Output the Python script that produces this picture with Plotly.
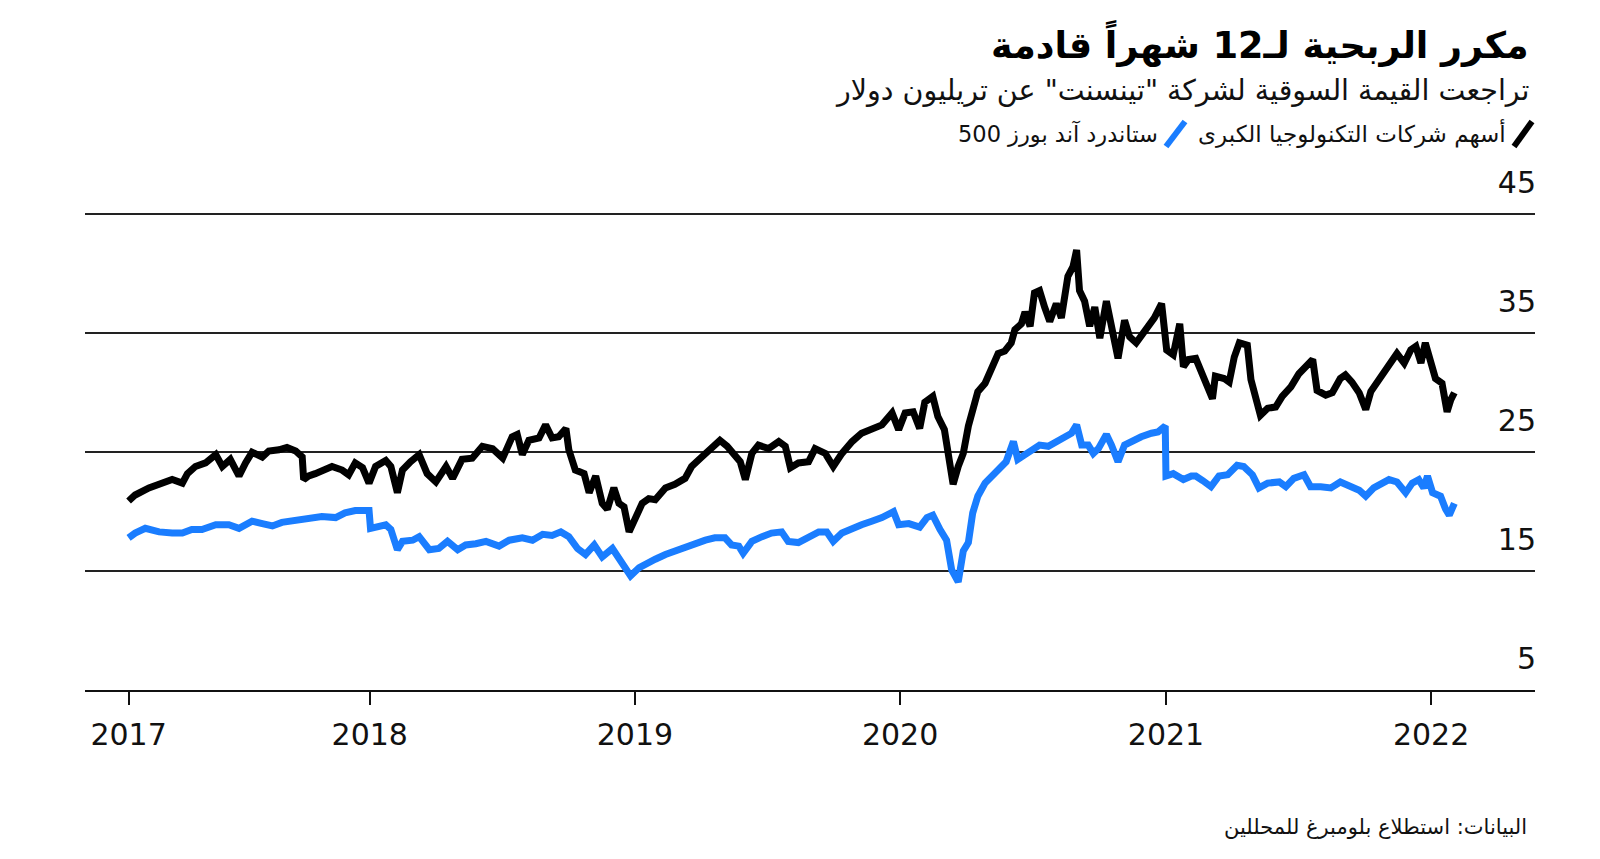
import plotly.graph_objects as go

# ---------------- data ----------------
black_dates = [
    "2017-02-03","2017-02-12","2017-03-03","2017-03-21","2017-04-04","2017-04-18","2017-04-25","2017-05-06",
    "2017-05-20","2017-06-03","2017-06-12","2017-06-23","2017-07-05","2017-07-14","2017-07-23","2017-08-06",
    "2017-08-15","2017-08-29","2017-09-09","2017-09-21","2017-09-30","2017-10-02","2017-10-09","2017-10-18",
    "2017-10-27","2017-11-10","2017-11-24","2017-12-03","2017-12-12","2017-12-22","2017-12-31","2018-01-09",
    "2018-01-23","2018-01-30","2018-02-08","2018-02-15","2018-02-26","2018-03-10","2018-03-21","2018-04-02",
    "2018-04-16","2018-04-25","2018-05-08","2018-05-22","2018-06-05","2018-06-19","2018-07-03","2018-07-16",
    "2018-07-23","2018-07-30","2018-08-08","2018-08-22","2018-08-31","2018-09-09","2018-09-18","2018-09-28",
    "2018-10-02","2018-10-11","2018-10-23","2018-10-30","2018-11-08","2018-11-17","2018-11-24","2018-12-03",
    "2018-12-10","2018-12-17","2018-12-24","2019-01-02","2019-01-11","2019-01-20","2019-01-29","2019-02-12",
    "2019-02-25","2019-03-11","2019-03-20","2019-04-03","2019-04-17","2019-04-28","2019-05-08","2019-05-19",
    "2019-05-26","2019-06-02","2019-06-11","2019-06-20","2019-07-04","2019-07-18","2019-07-27","2019-08-03",
    "2019-08-14","2019-08-28","2019-09-06","2019-09-20","2019-10-01","2019-10-13","2019-10-27","2019-11-09",
    "2019-11-23","2019-12-07","2019-12-21","2019-12-30","2020-01-08","2020-01-19","2020-01-28","2020-02-04",
    "2020-02-15","2020-02-22","2020-03-02","2020-03-09","2020-03-14","2020-03-21","2020-03-28","2020-04-04",
    "2020-04-10","2020-04-17","2020-04-27","2020-05-06","2020-05-15","2020-05-24","2020-06-02","2020-06-07",
    "2020-06-16","2020-06-21","2020-06-28","2020-07-04","2020-07-11","2020-07-18","2020-07-25","2020-08-03",
    "2020-08-10","2020-08-19","2020-08-26","2020-08-31","2020-09-04","2020-09-11","2020-09-18","2020-09-25",
    "2020-10-02","2020-10-11","2020-10-18","2020-10-27","2020-11-05","2020-11-12","2020-11-21","2020-12-03",
    "2020-12-16","2020-12-26","2021-01-02","2021-01-11","2021-01-20","2021-01-25","2021-02-01","2021-02-11",
    "2021-02-20","2021-03-01","2021-03-06","2021-03-10","2021-03-22","2021-03-29","2021-04-05","2021-04-12",
    "2021-04-23","2021-04-28","2021-05-05","2021-05-11","2021-05-21","2021-06-01","2021-06-10","2021-06-22",
    "2021-07-03","2021-07-12","2021-07-22","2021-07-28","2021-08-09","2021-08-18","2021-08-29","2021-09-05",
    "2021-09-14","2021-09-24","2021-10-03","2021-10-10","2021-10-19","2021-10-28","2021-11-06","2021-11-15",
    "2021-11-25","2021-12-04","2021-12-11","2021-12-18","2021-12-24","2021-12-31","2022-01-07","2022-01-16",
    "2022-01-23","2022-01-28","2022-02-02",
]
black_values = [
    20.9, 21.4, 22.0, 22.4, 22.7, 22.4, 23.2, 23.8,
    24.1, 24.8, 23.8, 24.4, 23.0, 24.1, 25.0, 24.6,
    25.1, 25.2, 25.4, 25.1, 24.6, 22.7, 23.0, 23.2,
    23.5, 23.8, 23.5, 23.1, 24.1, 23.7, 22.4, 23.8,
    24.3, 23.8, 21.6, 23.5, 24.2, 24.8, 23.2, 22.5,
    23.8, 22.8, 24.4, 24.5, 25.5, 25.3, 24.5, 26.3,
    26.5, 24.8, 26.0, 26.2, 27.3, 26.2, 26.3, 27.0,
    25.2, 23.5, 23.2, 21.6, 23.0, 20.7, 20.2, 22.0,
    20.7, 20.4, 18.3, 19.7, 20.7, 21.1, 21.0, 22.0,
    22.3, 22.8, 23.8, 24.6, 25.3, 26.0, 25.5, 24.6,
    24.2, 22.7, 24.9, 25.6, 25.3, 25.9, 25.5, 23.7,
    24.1, 24.2, 25.3, 24.9, 23.8, 24.9, 25.9, 26.6,
    26.9, 27.3, 28.3, 26.9, 28.3, 28.4, 27.0, 29.2,
    29.7, 28.0, 26.9, 24.6, 22.3, 23.8, 24.9, 27.2,
    28.6, 30.1, 30.8, 32.2, 33.3, 33.5, 34.2, 35.3,
    35.8, 36.8, 35.6, 38.4, 38.6, 37.2, 36.0, 37.5,
    36.3, 39.8, 40.6, 42.0, 38.6, 37.7, 35.6, 37.2,
    34.6, 37.7, 35.7, 32.9, 36.1, 34.7, 34.2, 35.1,
    36.3, 37.5, 33.6, 33.2, 35.8, 32.2, 32.8, 32.9,
    31.6, 30.0, 29.5, 31.4, 31.2, 30.9, 33.0, 34.2,
    34.0, 31.1, 29.7, 28.1, 28.7, 28.8, 29.7, 30.5,
    31.6, 32.1, 32.8, 30.2, 29.8, 30.0, 31.2, 31.5,
    30.9, 30.0, 28.6, 30.1, 30.9, 31.9, 32.5, 33.3,
    32.5, 33.6, 33.9, 32.5, 34.2, 32.8, 31.2, 30.8,
    28.4, 29.4, 30.0,
]

blue_dates = [
    "2017-02-03","2017-02-12","2017-02-26","2017-03-17","2017-04-04","2017-04-18","2017-05-01","2017-05-15",
    "2017-06-03","2017-06-21","2017-07-05","2017-07-23","2017-08-06","2017-08-20","2017-09-02","2017-09-21",
    "2017-10-09","2017-10-27","2017-11-15","2017-11-28","2017-12-12","2017-12-31","2018-01-02","2018-01-13",
    "2018-01-23","2018-01-30","2018-02-08","2018-02-15","2018-03-01","2018-03-10","2018-03-24","2018-04-06",
    "2018-04-18","2018-05-02","2018-05-13","2018-05-27","2018-06-10","2018-06-28","2018-07-12","2018-07-30",
    "2018-08-13","2018-08-27","2018-09-09","2018-09-21","2018-10-02","2018-10-14","2018-10-25","2018-11-06",
    "2018-11-17","2018-12-01","2018-12-10","2018-12-19","2018-12-26","2019-01-07","2019-01-20","2019-01-29",
    "2019-02-12","2019-02-25","2019-03-11","2019-03-25","2019-04-08","2019-04-21","2019-05-05","2019-05-14",
    "2019-05-24","2019-05-30","2019-06-11","2019-06-25","2019-07-08","2019-07-22","2019-07-31","2019-08-14",
    "2019-08-28","2019-09-11","2019-09-22","2019-10-01","2019-10-13","2019-10-27","2019-11-09","2019-11-23",
    "2019-12-07","2019-12-23","2019-12-30","2020-01-13","2020-01-28","2020-02-07","2020-02-15","2020-02-25",
    "2020-03-05","2020-03-12","2020-03-21","2020-03-28","2020-04-04","2020-04-10","2020-04-17","2020-04-27",
    "2020-05-06","2020-05-15","2020-05-26","2020-06-05","2020-06-11","2020-06-21","2020-06-30","2020-07-11",
    "2020-07-23","2020-08-03","2020-08-15","2020-08-24","2020-08-31","2020-09-07","2020-09-16","2020-09-23",
    "2020-09-30","2020-10-11","2020-10-18","2020-10-27","2020-11-05","2020-11-17","2020-11-28","2020-12-12",
    "2020-12-21","2020-12-31","2021-01-01","2021-01-11","2021-01-25","2021-02-05","2021-02-11","2021-02-21",
    "2021-03-04","2021-03-15","2021-03-27","2021-04-09","2021-04-18","2021-04-30","2021-05-09","2021-05-21",
    "2021-06-06","2021-06-15","2021-06-26","2021-07-10","2021-07-19","2021-08-02","2021-08-16","2021-08-29",
    "2021-09-10","2021-09-24","2021-10-03","2021-10-14","2021-10-26","2021-11-04","2021-11-15","2021-11-27",
    "2021-12-06","2021-12-15","2021-12-22","2021-12-27","2022-01-03","2022-01-14","2022-01-21","2022-01-26",
    "2022-02-02",
]
blue_values = [
    17.8, 18.2, 18.6, 18.3, 18.2, 18.2, 18.5, 18.5,
    18.9, 18.9, 18.6, 19.2, 19.0, 18.8, 19.1, 19.3,
    19.5, 19.6, 19.5, 19.9, 20.1, 20.1, 18.6, 18.8,
    18.9, 18.5, 16.8, 17.5, 17.6, 17.9, 16.8, 16.9,
    17.5, 16.8, 17.2, 17.3, 17.5, 17.1, 17.6, 17.8,
    17.6, 18.1, 18.0, 18.3, 17.9, 16.9, 16.4, 17.2,
    16.2, 16.9, 16.1, 15.1, 14.6, 15.3, 15.8, 16.0,
    16.4, 16.7, 16.9, 17.3, 17.6, 17.8, 17.8, 17.2,
    17.1, 16.5, 17.5, 17.9, 18.2, 18.3, 17.5, 17.4,
    17.9, 18.3, 18.3, 17.5, 18.2, 18.6, 18.9, 19.2,
    19.5, 20.0, 18.9, 19.0, 18.7, 19.5, 19.7, 18.5,
    17.6, 15.1, 14.1, 16.7, 17.4, 19.9, 21.3, 22.4,
    23.0, 23.5, 24.2, 25.9, 24.4, 24.8, 25.1, 25.6,
    25.5, 25.9, 26.2, 26.6, 27.3, 25.6, 25.6, 24.9,
    25.3, 26.5, 25.6, 24.2, 25.6, 26.0, 26.3, 26.6,
    26.7, 27.2, 23.0, 23.2, 22.7, 23.0, 23.0, 22.6,
    22.1, 23.0, 23.1, 23.9, 23.8, 23.1, 22.0, 22.4,
    22.5, 22.1, 22.8, 23.1, 22.1, 22.1, 22.0, 22.5,
    22.1, 21.8, 21.3, 22.0, 22.4, 22.7, 22.5, 21.6,
    22.4, 22.7, 22.0, 23.0, 21.6, 21.3, 20.2, 19.7,
    20.7,
]

y_ticks = [5, 15, 25, 35, 45]
x_tick_dates = ["2017-02-03", "2018-01-01", "2019-01-01", "2020-01-01", "2021-01-01", "2022-01-01"]
x_tick_labels = ["2017", "2018", "2019", "2020", "2021", "2022"]

title_text = "مكرر الربحية لـ12 شهراً قادمة"
subtitle_text = 'تراجعت القيمة السوقية لشركة "تينسنت" عن تريليون دولار'
black_name = "أسهم شركات التكنولوجيا الكبرى"
blue_name = "ستاندرد آند بورز 500"
source_text = "البيانات: استطلاع بلومبرغ للمحللين"

BLACK = "#000000"
BLUE = "#1a7dff"
AR_FONT = "DejaVu Sans"
NUM_FONT = "DejaVu Sans, Arial, sans-serif"

# ---------------- figure ----------------
# the page has an 8px body margin; figure is sized to fit inside the window
OFF = 8
W, H = 1584, 843
Y_MIN, Y_MAX = 5, 50
PL, PR, PB = 85, 1535, 690                  # plot area edges in page pixels
PT = PB - (Y_MAX - Y_MIN) * 11.9
ML, MR, MT, MB = PL - OFF, W - (PR - OFF), PT - OFF, H - (PB - OFF)

fig = go.Figure()
fig.add_trace(go.Scatter(x=blue_dates, y=blue_values, mode="lines", name=blue_name,
                         line=dict(color=BLUE, width=7), showlegend=False))
fig.add_trace(go.Scatter(x=black_dates, y=black_values, mode="lines", name=black_name,
                         line=dict(color=BLACK, width=7), showlegend=False))

def px_x(p):
    return (p - PL) / (PR - PL)

def px_y(p):
    return (PB - p) / (PB - PT)

annos = [
    dict(text="<b>" + title_text + "</b>", x=px_x(1531), y=px_y(42), size=36.5, color="#000"),
    dict(text=subtitle_text, x=px_x(1531), y=px_y(90), size=28.5, color="#111"),
    dict(text=black_name, x=px_x(1508), y=px_y(133), size=23, color="#111"),
    dict(text=blue_name, x=px_x(1160), y=px_y(133), size=22.5, color="#111"),
    dict(text=source_text, x=px_x(1529), y=px_y(827), size=21, color="#111"),
]
for a in annos:
    fig.add_annotation(text=a["text"], x=a["x"], y=a["y"], xref="paper", yref="paper",
                       xanchor="right", yanchor="middle", showarrow=False,
                       font=dict(family=AR_FONT, size=a["size"], color=a["color"]))

# legend slash keys
for (x0, x1, col) in [(1514, 1532, BLACK), (1166, 1185, BLUE)]:
    fig.add_shape(type="line", xref="paper", yref="paper",
                  x0=px_x(x0), x1=px_x(x1), y0=px_y(146), y1=px_y(121),
                  line=dict(color=col, width=6))

fig.update_layout(
    width=W, height=H,
    margin=dict(l=ML, r=MR, t=MT, b=MB),
    paper_bgcolor="white", plot_bgcolor="white",
    xaxis=dict(
        type="date",
        range=["2016-12-05", "2022-05-24"],
        tickvals=x_tick_dates, ticktext=x_tick_labels,
        showgrid=False, zeroline=False,
        showline=True, linecolor="#111", linewidth=2,
        ticks="outside", ticklen=13, tickwidth=1.5, tickcolor="#111",
        ticklabelstandoff=4,
        tickfont=dict(family=NUM_FONT, size=30, color="#111"),
    ),
    yaxis=dict(
        side="right",
        range=[Y_MIN, Y_MAX],
        tickvals=y_ticks, ticktext=[str(v) for v in y_ticks],
        showgrid=True, gridcolor="#222", gridwidth=1.5,
        zeroline=False, showline=False, ticks="",
        ticklabelposition="inside", ticklabelshift=-32, ticklabelstandoff=-4,
        tickfont=dict(family=NUM_FONT, size=30, color="#111"),
    ),
    hovermode=False,
)

fig.write_html("out.html")
